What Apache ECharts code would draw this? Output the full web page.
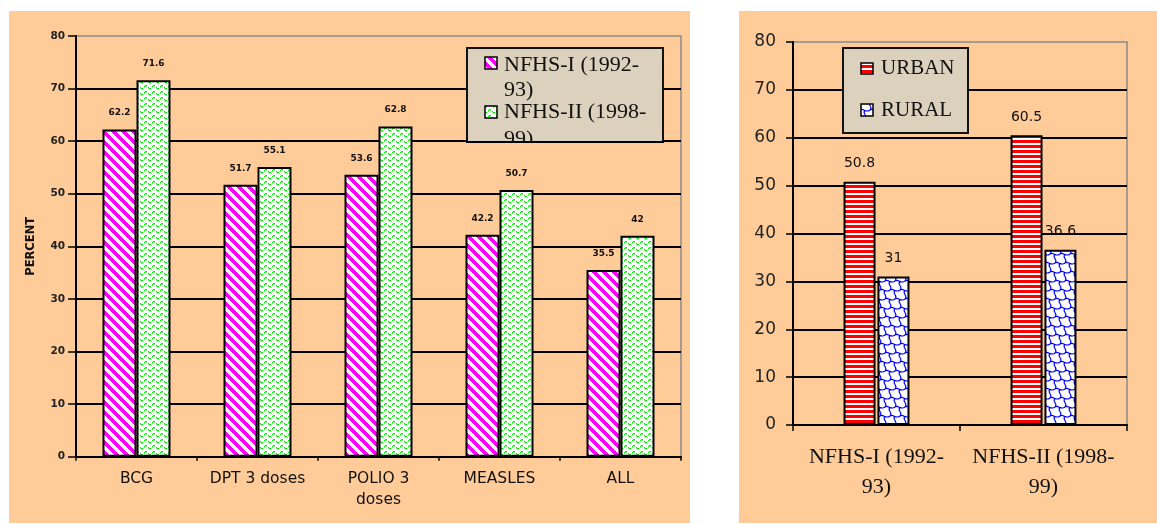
<!DOCTYPE html>
<html><head><meta charset="utf-8">
<script src="https://cdn.jsdelivr.net/npm/echarts@6/dist/echarts.min.js"></script>
<style>html,body{margin:0;padding:0;background:#fff}#c{width:1157px;height:524px}</style>
</head><body><div id="c"></div>
<script>
// ---- data ----
const vaccineCategories = ['BCG', 'DPT 3 doses', 'POLIO 3\ndoses', 'MEASLES', 'ALL'];
const nfhs1Values = [62.2, 51.7, 53.6, 42.2, 35.5];
const nfhs2Values = [71.6, 55.1, 62.8, 50.7, 42];
const leftSeriesNames = ['NFHS-I (1992-93)', 'NFHS-II (1998-99)'];
const leftLegendLabels = ['NFHS-I (1992-\n93)', 'NFHS-II (1998-\n99)'];
const surveyCategories = ['NFHS-I (1992-\n93)', 'NFHS-II (1998-\n99)'];
const urbanValues = [50.8, 60.5];
const ruralValues = [31, 36.6];
const rightSeriesNames = ['URBAN', 'RURAL'];
const yMin = 0, yMax = 80, yStep = 10;
const leftAxisName = 'PERCENT';

// ---- patterns ----
function makeCanvas(w, h, draw) {
  const c = document.createElement('canvas'); c.width = w; c.height = h;
  const x = c.getContext('2d'); x.fillStyle = '#fff'; x.fillRect(0, 0, w, h); draw(x); return c;
}
const pinkCanvas = makeCanvas(10, 10, ctx => {
  ctx.fillStyle = '#ff00ff';
  for (let y = 0; y < 10; y++) for (let x = 0; x < 10; x++) if ((((x - y) % 10) + 10) % 10 < 5) ctx.fillRect(x, y, 1, 1);
});
const greenCanvas = makeCanvas(8, 6, ctx => {
  ctx.fillStyle = '#00ee00';
  const ys = [2, 1, 1, 2, 3, 4, 4, 3];
  for (let x = 0; x < 8; x++) { if (x % 4 !== 3) ctx.fillRect(x, ys[x], 1, 1.5); }
});
const redCanvas = makeCanvas(4, 5, ctx => { ctx.fillStyle = '#ff0000'; ctx.fillRect(0, 0, 4, 3); });
const blueCanvas = makeCanvas(10, 18, ctx => {
  ctx.strokeStyle = '#0000ff'; ctx.lineWidth = 1.2; ctx.beginPath();
  for (const dy of [-18, 0, 18]) for (let r = 0; r < 2; r++) {
    const y0 = r * 9 + 2 + dy, xs = r * 5;
    for (let k = -1; k <= 1; k++) {
      const bx = k * 10 + xs;
      ctx.moveTo(bx, y0); ctx.bezierCurveTo(bx + 3, y0 - 2.5, bx + 6, y0 + 3.5, bx + 10, y0);
      ctx.moveTo(bx + 5, y0 + 0.5); ctx.bezierCurveTo(bx + 1.5, y0 + 3.5, bx + 8.5, y0 + 5.5, bx + 5, y0 + 9);
    }
  }
  ctx.stroke();
});
const pat = c => ({ image: c, repeat: 'repeat' });
const patterns = { pink: pat(pinkCanvas), green: pat(greenCanvas), red: pat(redCanvas), blue: pat(blueCanvas) };

const peach = '#ffcc99';
const legendBg = '#dbd1bd';

function leftLabel() {
  return { show: true, position: 'top', distance: 12, fontFamily: 'DejaVu Sans', fontWeight: 'bold', fontSize: 9, color: '#111' };
}
function rightLabel() {
  return { show: true, position: 'top', distance: 11, fontFamily: 'DejaVu Sans', fontSize: 14, color: '#111' };
}

const chart = echarts.init(document.getElementById('c'), null, { renderer: 'canvas' });
chart.setOption({
  animation: false,
  backgroundColor: '#fff',
  grid: [
    { left: 76, top: 36, right: 476, bottom: 67.3, show: true, backgroundColor: peach, borderColor: '#8a8a8a', borderWidth: 1.5 },
    { left: 793, top: 42, right: 30, bottom: 99, show: true, backgroundColor: peach, borderColor: '#8a8a8a', borderWidth: 1.5 }
  ],
  xAxis: [
    { type: 'category', gridIndex: 0, data: vaccineCategories,
      axisLine: { lineStyle: { color: '#000', width: 2 } },
      axisTick: { show: true, length: 4, lineStyle: { color: '#000', width: 1.5 } },
      axisLabel: { interval: 0, margin: 12, fontFamily: 'DejaVu Sans', fontSize: 15.5, lineHeight: 21, color: '#111' } },
    { type: 'category', gridIndex: 1, data: surveyCategories,
      axisLine: { lineStyle: { color: '#000', width: 2 } },
      axisTick: { show: true, length: 6, lineStyle: { color: '#000', width: 1.5 } },
      axisLabel: { interval: 0, margin: 17, fontFamily: 'Liberation Serif', fontSize: 22, lineHeight: 30, color: '#111' } }
  ],
  yAxis: [
    { type: 'value', gridIndex: 0, min: yMin, max: yMax, interval: yStep,
      name: leftAxisName, nameLocation: 'middle', nameRotate: 90, nameGap: 39,
      nameTextStyle: { fontFamily: 'DejaVu Sans', fontWeight: 'bold', fontSize: 11.5, color: '#111' },
      axisLine: { show: true, lineStyle: { color: '#000', width: 2 } },
      axisTick: { show: true, length: 8, lineStyle: { color: '#000', width: 1.5 } },
      axisLabel: { margin: 11, fontFamily: 'DejaVu Sans', fontWeight: 'bold', fontSize: 10.5, color: '#222' },
      splitLine: { show: true, showMaxLine: false, lineStyle: { color: '#000', width: 2 } } },
    { type: 'value', gridIndex: 1, min: yMin, max: yMax, interval: yStep,
      axisLine: { show: true, lineStyle: { color: '#000', width: 2 } },
      axisTick: { show: true, length: 7, lineStyle: { color: '#000', width: 1.5 } },
      axisLabel: { margin: 17, fontFamily: 'DejaVu Sans', fontSize: 17, color: '#222' },
      splitLine: { show: true, showMaxLine: false, lineStyle: { color: '#000', width: 2 } } }
  ],
  series: [
    { name: leftSeriesNames[0], type: 'bar', xAxisIndex: 0, yAxisIndex: 0, data: nfhs1Values,
      barWidth: 34, barGap: '0%', itemStyle: { color: patterns.pink, borderColor: '#000', borderWidth: 2 }, label: leftLabel() },
    { name: leftSeriesNames[1], type: 'bar', xAxisIndex: 0, yAxisIndex: 0, data: nfhs2Values,
      barWidth: 34, barGap: '0%', itemStyle: { color: patterns.green, borderColor: '#000', borderWidth: 2 }, label: leftLabel() },
    { name: rightSeriesNames[0], type: 'bar', xAxisIndex: 1, yAxisIndex: 1, data: urbanValues,
      barWidth: 32, barGap: '6%', itemStyle: { color: patterns.red, borderColor: '#000', borderWidth: 2 }, label: rightLabel() },
    { name: rightSeriesNames[1], type: 'bar', xAxisIndex: 1, yAxisIndex: 1, data: ruralValues,
      barWidth: 32, barGap: '6%', itemStyle: { color: patterns.blue, borderColor: '#000', borderWidth: 2 }, label: rightLabel() }
  ],
  graphic: [
    // chart panels
    { type: 'rect', z: -10, silent: true, shape: { x: 9, y: 11, width: 681, height: 512 }, style: { fill: peach } },
    { type: 'rect', z: -10, silent: true, shape: { x: 739, y: 11, width: 418, height: 512 }, style: { fill: peach } },
    // left legend (clipped at the 60 gridline, as in the original)
    { type: 'rect', z: 100, shape: { x: 467, y: 48, width: 196, height: 94 }, style: { fill: legendBg, stroke: '#111', lineWidth: 2 } },
    { type: 'rect', z: 101, shape: { x: 485, y: 57, width: 12, height: 12 }, style: { fill: patterns.pink, stroke: '#000', lineWidth: 1.5 } },
    { type: 'text', z: 101, x: 504, y: 53, style: { text: leftLegendLabels[0], font: '22px "Liberation Serif"', lineHeight: 24.5, fill: '#111', verticalAlign: 'top' } },
    { type: 'rect', z: 101, shape: { x: 485, y: 106, width: 12, height: 12 }, style: { fill: patterns.green, stroke: '#000', lineWidth: 1.5 } },
    { type: 'text', z: 101, x: 504, y: 99, style: { text: leftLegendLabels[1], font: '22px "Liberation Serif"', lineHeight: 27, fill: '#111', verticalAlign: 'top' } },
    { type: 'rect', z: 102, silent: true, shape: { x: 465, y: 143, width: 200, height: 16 }, style: { fill: peach } },
    { type: 'line', z: 103, silent: true, shape: { x1: 466, y1: 142, x2: 664, y2: 142 }, style: { stroke: '#000', lineWidth: 2 } },
    // right legend
    { type: 'rect', z: 100, shape: { x: 843, y: 48, width: 125, height: 85 }, style: { fill: legendBg, stroke: '#111', lineWidth: 2 } },
    { type: 'rect', z: 101, shape: { x: 861, y: 63, width: 12, height: 11 }, style: { fill: patterns.red, stroke: '#000', lineWidth: 1.5 } },
    { type: 'text', z: 101, x: 881, y: 68, style: { text: rightSeriesNames[0], font: '21px "Liberation Serif"', fill: '#111', verticalAlign: 'middle' } },
    { type: 'rect', z: 101, shape: { x: 861, y: 104, width: 12, height: 12 }, style: { fill: patterns.blue, stroke: '#000', lineWidth: 1.5 } },
    { type: 'text', z: 101, x: 881, y: 110, style: { text: rightSeriesNames[1], font: '21px "Liberation Serif"', fill: '#111', verticalAlign: 'middle' } }
  ]
});
</script>
</body></html>
